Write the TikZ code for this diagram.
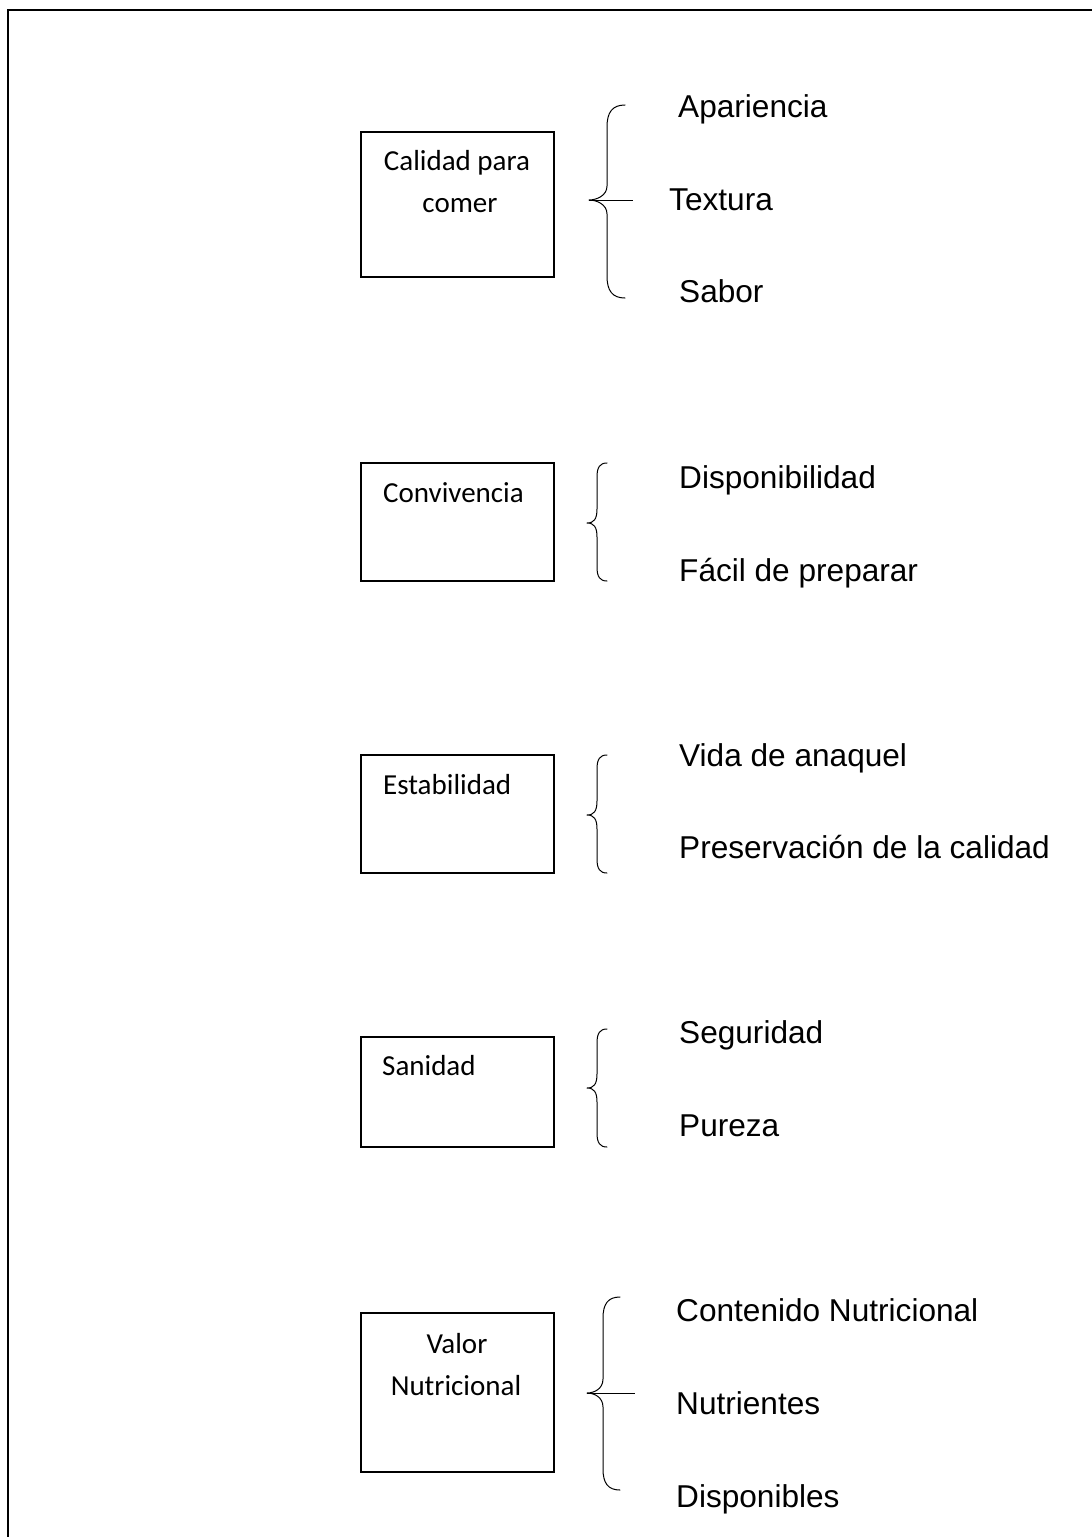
\documentclass[tikz,border=0pt]{standalone}
\usepackage{fontspec}
\setmainfont{Liberation Sans}
\newfontfamily\boxfont{Carlito}

% curly brace: #1 stem x, #2 tip x, #3 hook radius, #4 top y, #5 tip y, #6 bottom y
\newcommand{\curlybrace}[6]{%
  \draw[brace line]
    (#1+#3,#4) .. controls (#1+0.3*#3,#4) and (#1,#4+0.4*#3) .. (#1,#4+#3+4)
    -- (#1,#5-14) .. controls (#1,#5-4) and (#2+7,#5) .. (#2,#5)
    .. controls (#2+7,#5) and (#1,#5+4) .. (#1,#5+14)
    -- (#1,#6-#3-4) .. controls (#1,#6-0.4*#3) and (#1+0.3*#3,#6) .. (#1+#3,#6);}

\begin{document}
\begin{tikzpicture}[x=1pt,y=-1pt,
  box/.style={draw, line width=1.5pt, inner sep=0pt, minimum width=193pt},
  boxtext/.style={font=\boxfont\fontsize{29}{35}\selectfont, inner sep=0pt},
  item/.style={font=\fontsize{31.6}{38}\selectfont, inner sep=0pt, anchor=base west},
  brace line/.style={line width=1pt, line join=round, line cap=round},
  spoke/.style={line width=1pt}]

\useasboundingbox (0,0) rectangle (1092,1537);

% page frame (left and top edges)
\draw[line width=2pt] (7.5,1545) -- (7.5,9.5) -- (1100,9.5);

% category boxes
\node[box, minimum height=145pt] (b1) at (457.5,204.5) {};
\node[box, minimum height=118pt] (b2) at (457.5,522) {};
\node[box, minimum height=118pt] (b3) at (457.5,814) {};
\node[box, minimum height=110pt] (b4) at (457.5,1092) {};
\node[box, minimum height=159pt] (b5) at (457.5,1392.5) {};

% box captions
\node[boxtext, anchor=base] (t1a) at (457,170.7) {Calidad para};
\node[boxtext, anchor=base] (t1b) at (460,212) {comer};
\node[boxtext, anchor=base west] (t2) at (383,502) {Convivencia};
\node[boxtext, anchor=base west] (t3) at (383,794) {Estabilidad};
\node[boxtext, anchor=base west] (t4) at (382,1075) {Sanidad};
\node[boxtext, anchor=base] (t5a) at (457,1353) {Valor};
\node[boxtext, anchor=base] (t5b) at (456,1395) {Nutricional};

% braces
\curlybrace{607}{589}{18}{105}{200}{298}
\curlybrace{597}{587}{10}{463}{523}{581}
\curlybrace{597}{587}{10}{755}{815}{873}
\curlybrace{597}{587}{10}{1029}{1088}{1147}
\curlybrace{603}{587}{17}{1297}{1393}{1490}

% brace spokes
\coordinate (s1a) at (589,200);
\coordinate (s1b) at (633,200);
\coordinate (s5a) at (587,1393);
\coordinate (s5b) at (635,1393);
\draw[spoke] (s1a) -- (s1b);
\draw[spoke] (s5a) -- (s5b);

% items
\node[item] (i1a) at (678,117.5) {Apariencia};
\node[item] (i1b) at (669,210) {Textura};
\node[item] (i1c) at (679,302.5) {Sabor};

\node[item] (i2a) at (679,488) {Disponibilidad};
\node[item] (i2b) at (679,581) {Fácil de preparar};

\node[item] (i3a) at (679,766) {Vida de anaquel};
\node[item] (i3b) at (679,858) {Preservación de la calidad};

\node[item] (i4a) at (679,1043) {Seguridad};
\node[item] (i4b) at (679,1136) {Pureza};

\node[item] (i5a) at (676,1321) {Contenido Nutricional};
\node[item] (i5b) at (676,1414) {Nutrientes};
\node[item] (i5c) at (676,1507) {Disponibles};
\end{tikzpicture}
\end{document}
